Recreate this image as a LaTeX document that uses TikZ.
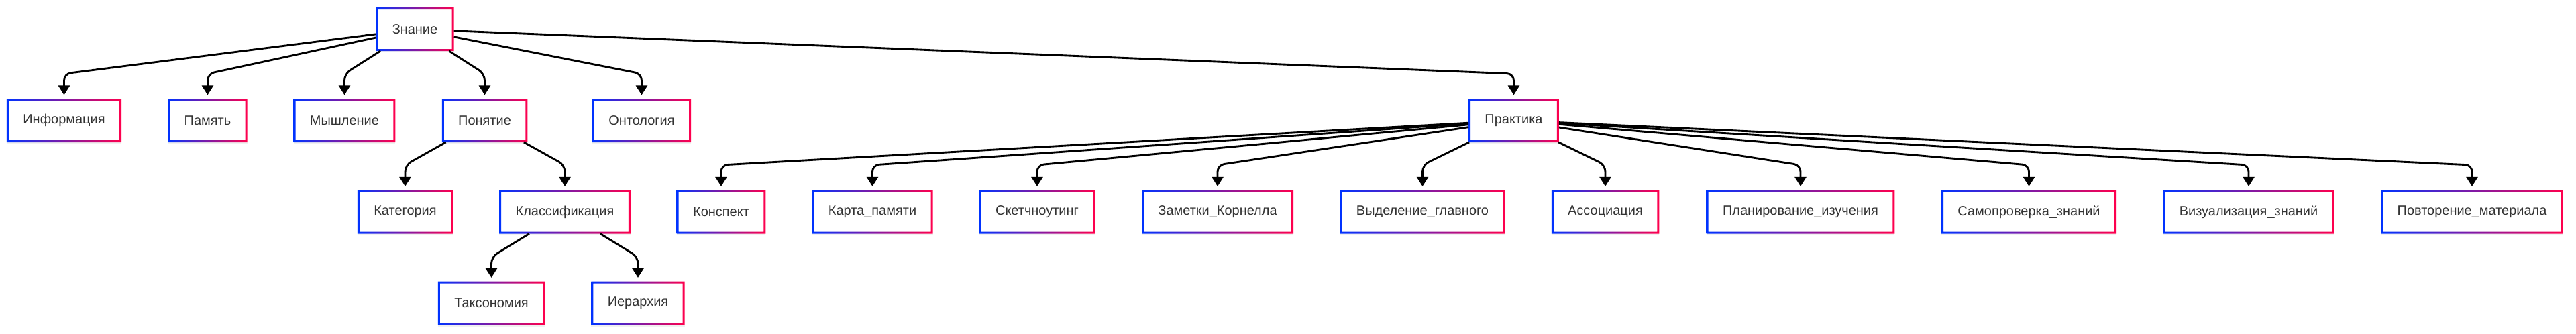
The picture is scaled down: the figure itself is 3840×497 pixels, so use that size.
\documentclass[tikz,border=0pt]{standalone}
\usepackage{fontspec}
\setmainfont{Liberation Sans}
\usetikzlibrary{arrows.meta,shadows}
\definecolor{gblue}{RGB}{0,51,255}
\definecolor{gred}{RGB}{255,0,77}
\definecolor{txt}{RGB}{51,51,51}
\newcommand{\gframe}[1]{% node name
  \shade[left color=gblue,right color=gred,even odd rule]
    (#1.north west) rectangle (#1.south east)
    ([shift={(3,3)}]#1.north west) rectangle ([shift={(-3,-3)}]#1.south east);
}

\begin{document}
\begin{tikzpicture}[x=0.25mm,y=-0.25mm,
  box/.style={fill=white,minimum height=16.25mm,inner xsep=6.1mm,outer sep=0pt,
    text=txt,font=\fontsize{14.2}{17}\selectfont,
    drop shadow={shadow xshift=0mm,shadow yshift=-0.6mm,opacity=0.12}},
  edge/.style={line width=0.72mm,rounded corners=2.5mm,shorten >=1.4mm,
    -{Triangle[length=3.5mm,width=4.25mm]}}]
  \useasboundingbox (0,0) rectangle (3840,497);
  % boxes
  \foreach \n/\x/\y/\t in {zn/618.5/43.5/Знание,
      inf/95.5/179.5/Информация, pam/309.5/179.5/Память,
      mysh/513.5/179.5/Мышление, pon/722.5/179.5/Понятие,
      ont/956.5/179.5/Онтология, prak/2256.5/179.5/Практика,
      kat/604/316/Категория, klas/842/316/Классификация,
      kons/1075/316/Конспект, karta/1300.5/316/Карта\_памяти,
      sket/1546/316/Скетчноутинг, zam/1815/316/Заметки\_Корнелла,
      vyd/2120.5/316/Выделение\_главного, ass/2393/316/Ассоциация,
      plan/2684/316/Планирование\_изучения, samo/3024.5/316/Самопроверка\_знаний,
      viz/3352/316/Визуализация\_знаний, povt/3685/316/Повторение\_материала,
      tax/732.5/452/Таксономия, ier/951/452/Иерархия}{
    \node[box] (\n) at (\x,\y) {\t};
    \gframe{\n}
  }
  % links
  \foreach \p/\c/\b in {zn/inf/110, zn/pam/110, zn/mysh/110, zn/pon/110,
      zn/ont/110, zn/prak/110, pon/kat/246, pon/klas/246,
      prak/kons/246, prak/karta/246, prak/sket/246, prak/zam/246,
      prak/vyd/246, prak/ass/246, prak/plan/246, prak/samo/246,
      prak/viz/246, prak/povt/246, klas/tax/383, klas/ier/383}{
    \coordinate (bend) at (0,\b);
    \draw[edge] (\p) -- (\c.north |- bend) -- (\c.north);
  }
\end{tikzpicture}
\end{document}
